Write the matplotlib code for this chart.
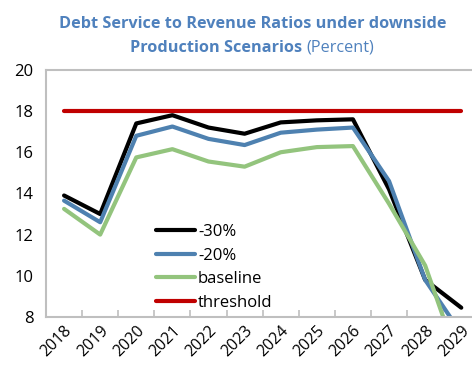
import matplotlib
matplotlib.use("Agg")
import matplotlib.pyplot as plt
import numpy as np

#Data
years = ['2018', '2019', '2020', '2021', '2022', '2023', '2024', '2025', '2026', '2027', '2028', '2029']
minus30 = [13.9, 13.0, 17.4, 17.8, 17.2, 16.9, 17.45, 17.55, 17.6, 14.2, 9.8, 8.45]
minus20 = [13.65, 12.6, 16.8, 17.25, 16.65, 16.35, 16.95, 17.1, 17.2, 14.6, 9.8, 7.2]
baseline = [13.25, 12.0, 15.75, 16.15, 15.55, 15.3, 16.0, 16.25, 16.3, 13.5, 10.5, 5.5]
threshold = [18] * 12

plt.rcParams['font.family'] = ['Open Sans', 'DejaVu Sans']

fig = plt.figure(figsize=(4.72, 3.66), dpi=100)
ax = fig.add_axes([0.0975, 0.134, 0.918, 0.675])

x = np.arange(len(years))
ax.plot(x, minus30, color='black', lw=3, label='-30%', solid_capstyle='round')
ax.plot(x, minus20, color='#4e81b0', lw=3, label='-20%', solid_capstyle='round')
ax.plot(x, baseline, color='#93c47d', lw=3, label='baseline', solid_capstyle='round')
ax.plot(x, threshold, color='#c00000', lw=3, label='threshold', solid_capstyle='round')

ax.set_ylim(8, 20)
ax.set_yticks(range(8, 21, 2))
ax.set_xlim(-0.5, 11.5)

#Ticks between categories, labels at centers
ax.set_xticks(np.arange(0.5, 11.5, 1))
ax.set_xticklabels([])
ax.set_xticks(x, minor=True)
ax.set_xticklabels(years, minor=True, rotation=45, ha='right', rotation_mode='anchor')
ax.tick_params(axis='x', which='major', direction='in', length=5, color='#bfbfbf', width=1.2)
ax.tick_params(axis='x', which='minor', length=0, pad=4, labelsize=11.5)
ax.tick_params(axis='y', length=0, labelsize=12, pad=9)

for s in ['left', 'bottom', 'top']:
    ax.spines[s].set_color('#bfbfbf')
    ax.spines[s].set_linewidth(1.5)
ax.spines['right'].set_visible(False)

ax.legend(loc='lower left', bbox_to_anchor=(0.22, -0.035), frameon=False, fontsize=12,
          handlelength=2.3, handletextpad=0.2, labelspacing=0.45)

#Title
blue = '#4f81bd'
fig.text(0.535, 0.935, 'Debt Service to Revenue Ratios under downside',
         ha='center', va='center', fontsize=11.7, fontweight='bold', color=blue)
t1 = fig.text(0, 0.87, 'Production Scenarios ', ha='left', va='center',
              fontsize=11.7, fontweight='bold', color=blue)
t2 = fig.text(0, 0.87, '(Percent)', ha='left', va='center',
              fontsize=11.7, color=blue)
r = fig.canvas.get_renderer()
w1 = t1.get_window_extent(r).width / fig.bbox.width
w2 = t2.get_window_extent(r).width / fig.bbox.width
start = 0.535 - (w1 + w2) / 2
t1.set_x(start)
t2.set_x(start + w1)

fig.savefig('out.png', dpi=100)
